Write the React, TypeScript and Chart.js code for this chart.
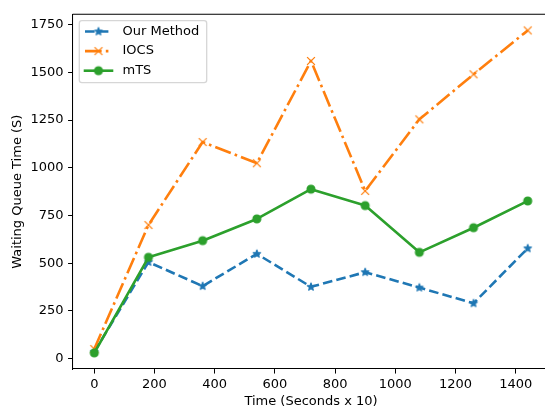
import React, { useEffect, useRef } from "react";
import { Chart, registerables } from "chart.js";

Chart.register(...registerables);

const TIME = [0, 180, 360, 540, 720, 900, 1080, 1260, 1440];
const OUR_METHOD = [35, 506, 380, 549, 376, 453, 372, 290, 578];
const IOCS = [50, 700, 1135, 1024, 1560, 879, 1254, 1490, 1720];
const MTS = [30, 531, 618, 732, 888, 802, 557, 686, 826];
const X_TICKS = [0, 200, 400, 600, 800, 1000, 1200, 1400];
const Y_TICKS = [0, 250, 500, 750, 1000, 1250, 1500, 1750];
const SERIES_LABELS = ["Our Method", "IOCS", "mTS"];
const X_TITLE = "Time (Seconds x 10)";
const Y_TITLE = "Waiting Queue Time (S)";

const FONT = "DejaVu Sans";
const FS = 13;
const PT = 1.3;
const BLUE = "#1f77b4";
const ORANGE = "#ff7f0e";
const GREEN = "#2ca02c";

function makeMarker(kind: string, color: string): HTMLCanvasElement {
  const c = document.createElement("canvas");
  c.width = 16;
  c.height = 16;
  const ctx = c.getContext("2d")!;
  const cx = 8, cy = 8;
  const r = 3 * PT;
  ctx.strokeStyle = color;
  ctx.fillStyle = color;
  ctx.lineWidth = 1 * PT;
  ctx.lineJoin = "round";
  if (kind === "star") {
    const inner = r * 0.381966;
    ctx.beginPath();
    for (let i = 0; i < 10; i++) {
      const rr = i % 2 === 0 ? r : inner;
      const a = -Math.PI / 2 + (i * Math.PI) / 5;
      const px = cx + rr * Math.cos(a);
      const py = cy + rr * Math.sin(a);
      if (i === 0) ctx.moveTo(px, py);
      else ctx.lineTo(px, py);
    }
    ctx.closePath();
    ctx.fill();
    ctx.stroke();
  } else if (kind === "circle") {
    ctx.beginPath();
    ctx.arc(cx, cy, r, 0, Math.PI * 2);
    ctx.fill();
    ctx.stroke();
  } else {
    ctx.lineCap = "butt";
    ctx.beginPath();
    ctx.moveTo(cx - r, cy - r);
    ctx.lineTo(cx + r, cy + r);
    ctx.moveTo(cx - r, cy + r);
    ctx.lineTo(cx + r, cy - r);
    ctx.stroke();
  }
  return c;
}

const framePlugin = {
  id: "frameAndLegend",
  afterDraw(chart: any) {
    const ctx = chart.ctx as CanvasRenderingContext2D;
    const a = chart.chartArea;
    ctx.save();
    ctx.strokeStyle = "#000";
    ctx.lineWidth = 0.8 * PT;
    ctx.beginPath();
    ctx.moveTo(a.left, a.top);
    ctx.lineTo(a.right, a.top);
    ctx.lineTo(a.right, a.bottom);
    ctx.stroke();

    const bx = 79.3, by = 20.7, bw = 127.4, bh = 62, rad = 0.2 * FS;
    ctx.beginPath();
    ctx.moveTo(bx + rad, by);
    ctx.lineTo(bx + bw - rad, by);
    ctx.arcTo(bx + bw, by, bx + bw, by + rad, rad);
    ctx.lineTo(bx + bw, by + bh - rad);
    ctx.arcTo(bx + bw, by + bh, bx + bw - rad, by + bh, rad);
    ctx.lineTo(bx + rad, by + bh);
    ctx.arcTo(bx, by + bh, bx, by + bh - rad, rad);
    ctx.lineTo(bx, by + rad);
    ctx.arcTo(bx, by, bx + rad, by, rad);
    ctx.closePath();
    ctx.fillStyle = "rgba(255,255,255,0.8)";
    ctx.fill();
    ctx.strokeStyle = "rgba(204,204,204,0.8)";
    ctx.lineWidth = 1 * PT;
    ctx.stroke();

    const ds = chart.data.datasets;
    ds.forEach((d: any, i: number) => {
      const y = 31.5 + i * 19.6;
      const x0 = 85, x1 = 112;
      ctx.save();
      ctx.strokeStyle = d.borderColor;
      ctx.lineWidth = d.borderWidth;
      ctx.setLineDash(d.borderDash || []);
      ctx.lineCap = (d.borderDash && d.borderDash.length) ? "butt" : "square";
      ctx.beginPath();
      ctx.moveTo(x0, y);
      ctx.lineTo(x1, y);
      ctx.stroke();
      ctx.restore();
      const m = d.pointStyle as HTMLCanvasElement;
      ctx.drawImage(m, (x0 + x1) / 2 - m.width / 2, y - m.height / 2);
      ctx.fillStyle = "#000";
      ctx.font = `${FS}px "${FONT}"`;
      ctx.textAlign = "left";
      ctx.textBaseline = "middle";
      ctx.fillText(d.label, 122.5, y);
    });
    ctx.restore();
  },
};

export default function App() {
  const ref = useRef<HTMLCanvasElement>(null);
  useEffect(() => {
    if (!ref.current) return;
    Chart.defaults.color = "#000";
    Chart.defaults.font.family = FONT;
    Chart.defaults.font.size = FS;
    const series = [OUR_METHOD, IOCS, MTS];
    const colors = [BLUE, ORANGE, GREEN];
    const dashes = [[7.4 * PT, 3.2 * PT], [12.8 * PT, 3.2 * PT, 2 * PT, 3.2 * PT], []];
    const markers = ["star", "x", "circle"];
    const orders = [2, 1, 0];
    const chart = new Chart(ref.current, {
      type: "line",
      data: {
        datasets: series.map((s, i) => ({
          label: SERIES_LABELS[i],
          data: s.map((v, j) => ({ x: TIME[j], y: v })),
          borderColor: colors[i],
          backgroundColor: colors[i],
          borderWidth: 2 * PT,
          borderDash: dashes[i],
          borderJoinStyle: "round" as const,
          borderCapStyle: (dashes[i].length ? "butt" : "square") as any,
          pointStyle: makeMarker(markers[i], colors[i]) as any,
          pointRadius: 5,
          tension: 0,
          fill: false,
          order: orders[i],
        })),
      },
      options: {
        animation: false,
        responsive: false,
        events: [],
        layout: { padding: { left: 0, top: 14.3, right: 560 - 549.4, bottom: 0 } },
        plugins: { legend: { display: false }, tooltip: { enabled: false } },
        scales: {
          x: {
            type: "linear",
            min: -72,
            max: 1512,
            afterBuildTicks: (s: any) => { s.ticks = X_TICKS.map((v) => ({ value: v })); },
            afterFit: (s: any) => { s.height = 40; },
            ticks: {
              autoSkip: false,
              maxRotation: 0,
              padding: 3.5,
              color: "#000",
              font: { family: FONT, size: FS },
              callback: (v: any) => String(v),
            },
            grid: { drawOnChartArea: false, drawTicks: true, tickLength: 3.5 * PT, tickColor: "#000", tickWidth: 0.8 * PT },
            border: { display: true, color: "#000", width: 0.8 * PT },
            title: { display: true, text: X_TITLE, color: "#000", font: { family: FONT, size: FS }, padding: { top: 0, bottom: 0 } },
          },
          y: {
            type: "linear",
            min: -54.5,
            max: 1804.5,
            afterBuildTicks: (s: any) => { s.ticks = Y_TICKS.map((v) => ({ value: v })); },
            afterFit: (s: any) => { s.width = 72.6; },
            ticks: {
              autoSkip: false,
              padding: 4.5,
              color: "#000",
              font: { family: FONT, size: FS },
              callback: (v: any) => String(v),
            },
            grid: { drawOnChartArea: false, drawTicks: true, tickLength: 3.5 * PT, tickColor: "#000", tickWidth: 0.8 * PT },
            border: { display: true, color: "#000", width: 0.8 * PT },
            title: { display: true, text: Y_TITLE, color: "#000", font: { family: FONT, size: FS }, padding: { top: 10, bottom: 0 } },
          },
        },
      },
      plugins: [framePlugin],
    });
    return () => chart.destroy();
  }, []);
  return (
    <div style={{ position: "fixed", left: 0, top: 0, width: 545, height: 409, overflow: "hidden", background: "#fff" }}>
      <canvas ref={ref} width={560} height={409} style={{ width: 560, height: 409, display: "block" }} />
    </div>
  );
}
